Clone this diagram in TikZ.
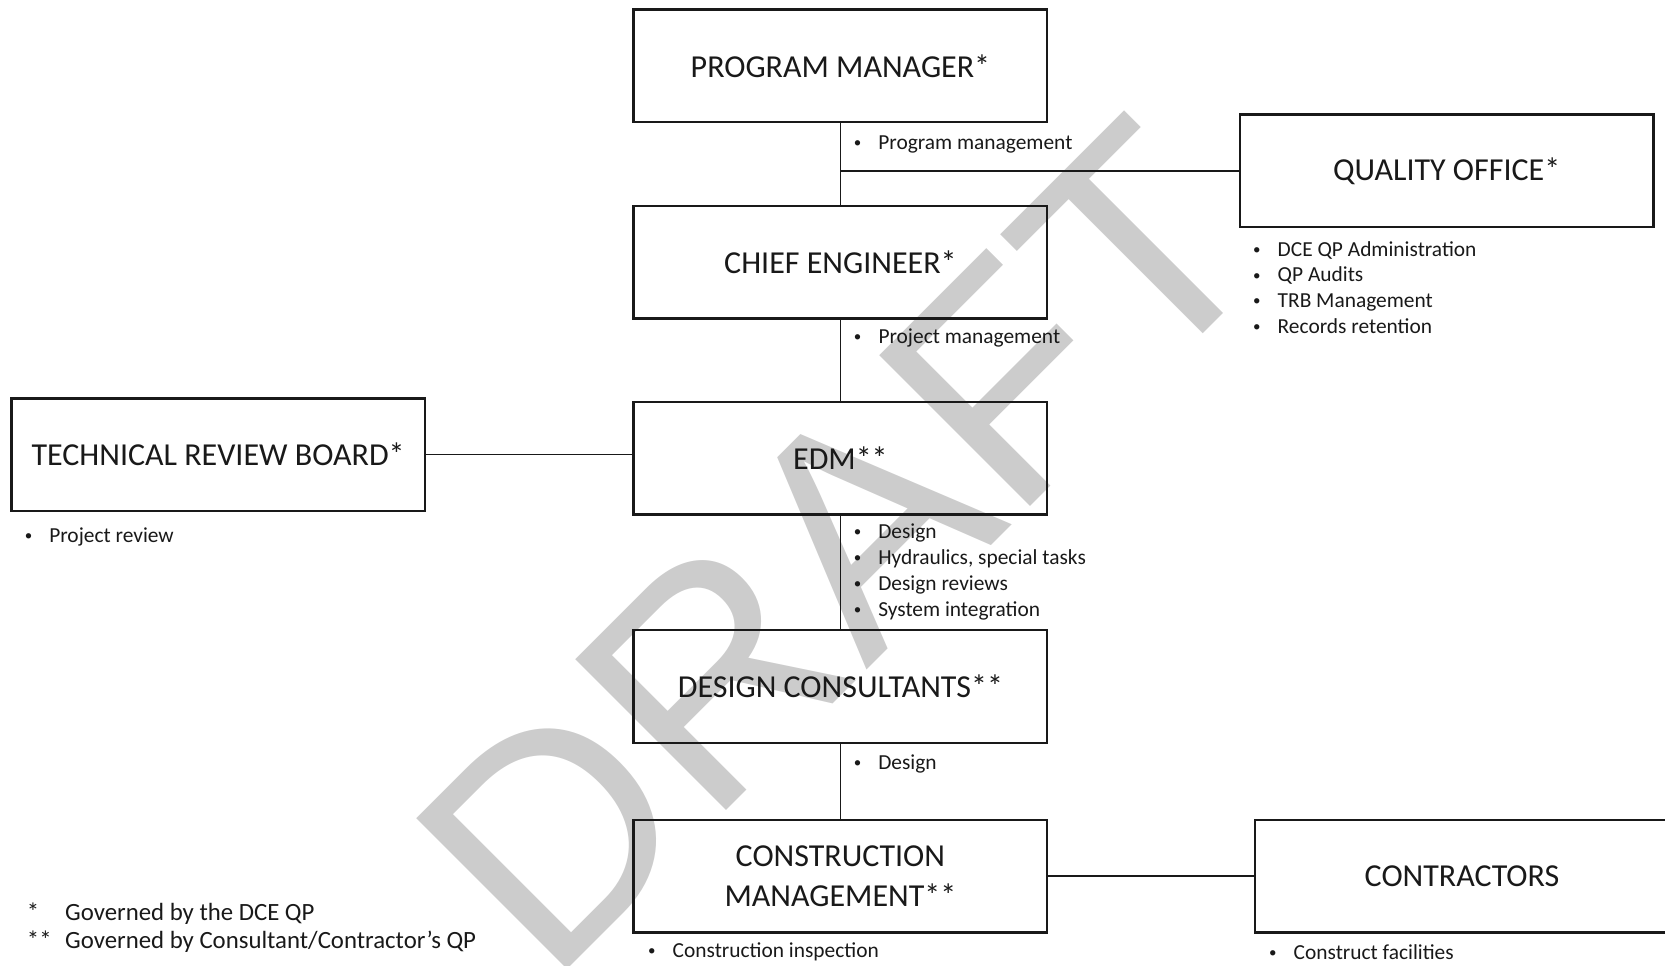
\documentclass[tikz,border=0pt]{standalone}
\usepackage{fontspec}
\setmainfont{Carlito}
\newfontfamily\wmfont{Liberation Sans}
\definecolor{wmgray}{RGB}{204,204,204}
\definecolor{ink}{RGB}{25,25,25}
\newcommand{\boxfont}{\fontsize{32}{39.3}\selectfont}
\newcommand{\notefont}{\fontsize{21.4}{26.2}\selectfont}
\newcommand{\footfont}{\fontsize{24.8}{28.3}\selectfont}
\newcommand{\mybul}{\makebox[0pt][c]{\raisebox{1.8pt}{\fontsize{15}{15}\selectfont\textbullet}}\hspace{20.8pt}}
\newcommand{\blist}[1]{\begin{tabular}[t]{@{}l@{}}#1\end{tabular}}
\tikzset{
  box/.style={draw=ink, line width=2.4pt, minimum width=413.6pt, minimum height=112.6pt,
              inner sep=0pt, font=\boxfont, align=center, text=ink},
  conn/.style={draw=ink, line width=1.6pt},
  notes/.style={anchor=base west, inner sep=0pt, font=\notefont, text=ink},
  foot/.style={anchor=base west, inner sep=0pt, font=\footfont, text=ink},
  wm/.style={anchor=base, rotate=45, inner sep=0pt, text=wmgray,
             font=\wmfont\fontsize{310}{310}\selectfont}
}
\begin{document}
\begin{tikzpicture}[x=1pt,y=-1pt]
\useasboundingbox (0,0) rectangle (1665,966);
\clip (0,0) rectangle (1665,966);
% watermark
\node[wm] (draft) at (915.2,621.8) {DRAFT};
% boxes
\node[box] (pm)  at (840.4,65.8)  {PROGRAM MANAGER*};
\node[box] (ce)  at (840.4,262)   {CHIEF ENGINEER*};
\node[box] (edm) at (840.4,458.3) {EDM**};
\node[box] (dc)  at (840.4,686.5) {DESIGN CONSULTANTS**};
\node[box] (cm)  at (840.4,876.3) {CONSTRUCTION\\MANAGEMENT**};
\node[box] (qo)  at (1446.7,170.8) {QUALITY OFFICE*};
\node[box] (trb) at (218.1,454.7) {TECHNICAL REVIEW BOARD*};
\node[box] (con) at (1462,876.3)  {CONTRACTORS};
% connectors
\draw[conn] (pm.south) -- (ce.north);
\draw[conn] (ce.south) -- (edm.north);
\draw[conn] (edm.south) -- (dc.north);
\draw[conn] (dc.south) -- (cm.north);
\draw[conn, line width=2pt] (pm.south |- qo.west) -- (qo.west);
\draw[conn, line width=1.3pt] (trb.east) -- (trb.east -| edm.west);
\draw[conn, line width=1.8pt] (cm.east) -- (con.west);
% notes
\node[notes] (pmn)  at (857.3,149)   {\blist{\mybul Program management}};
\node[notes] (cen)  at (857.5,343.3) {\blist{\mybul Project management}};
\node[notes] (edmn) at (857.3,538)   {\blist{\mybul Design\\\mybul Hydraulics, special tasks\\\mybul Design reviews\\\mybul System integration}};
\node[notes] (dcn)  at (857.3,769.3) {\blist{\mybul Design}};
\node[notes] (cmn)  at (651.7,957.3) {\blist{\mybul Construction inspection}};
\node[notes] (conn) at (1272.7,959.3) {\blist{\mybul Construct facilities}};
\node[notes, font=\fontsize{21.4}{25.8}\selectfont] (qon) at (1256.7,256) {\blist{\mybul DCE QP Administration\\\mybul QP Audits\\\mybul TRB Management\\\mybul Records retention}};
\node[notes] (trbn) at (28.3,542.5) {\blist{\mybul Project review}};
% footnotes
\node[foot] (fn) at (26.7,920) {\blist{\makebox[38.3pt][l]{*}Governed by the DCE QP\\\makebox[38.3pt][l]{**}Governed by Consultant/Contractor’s QP}};
\end{tikzpicture}
\end{document}
